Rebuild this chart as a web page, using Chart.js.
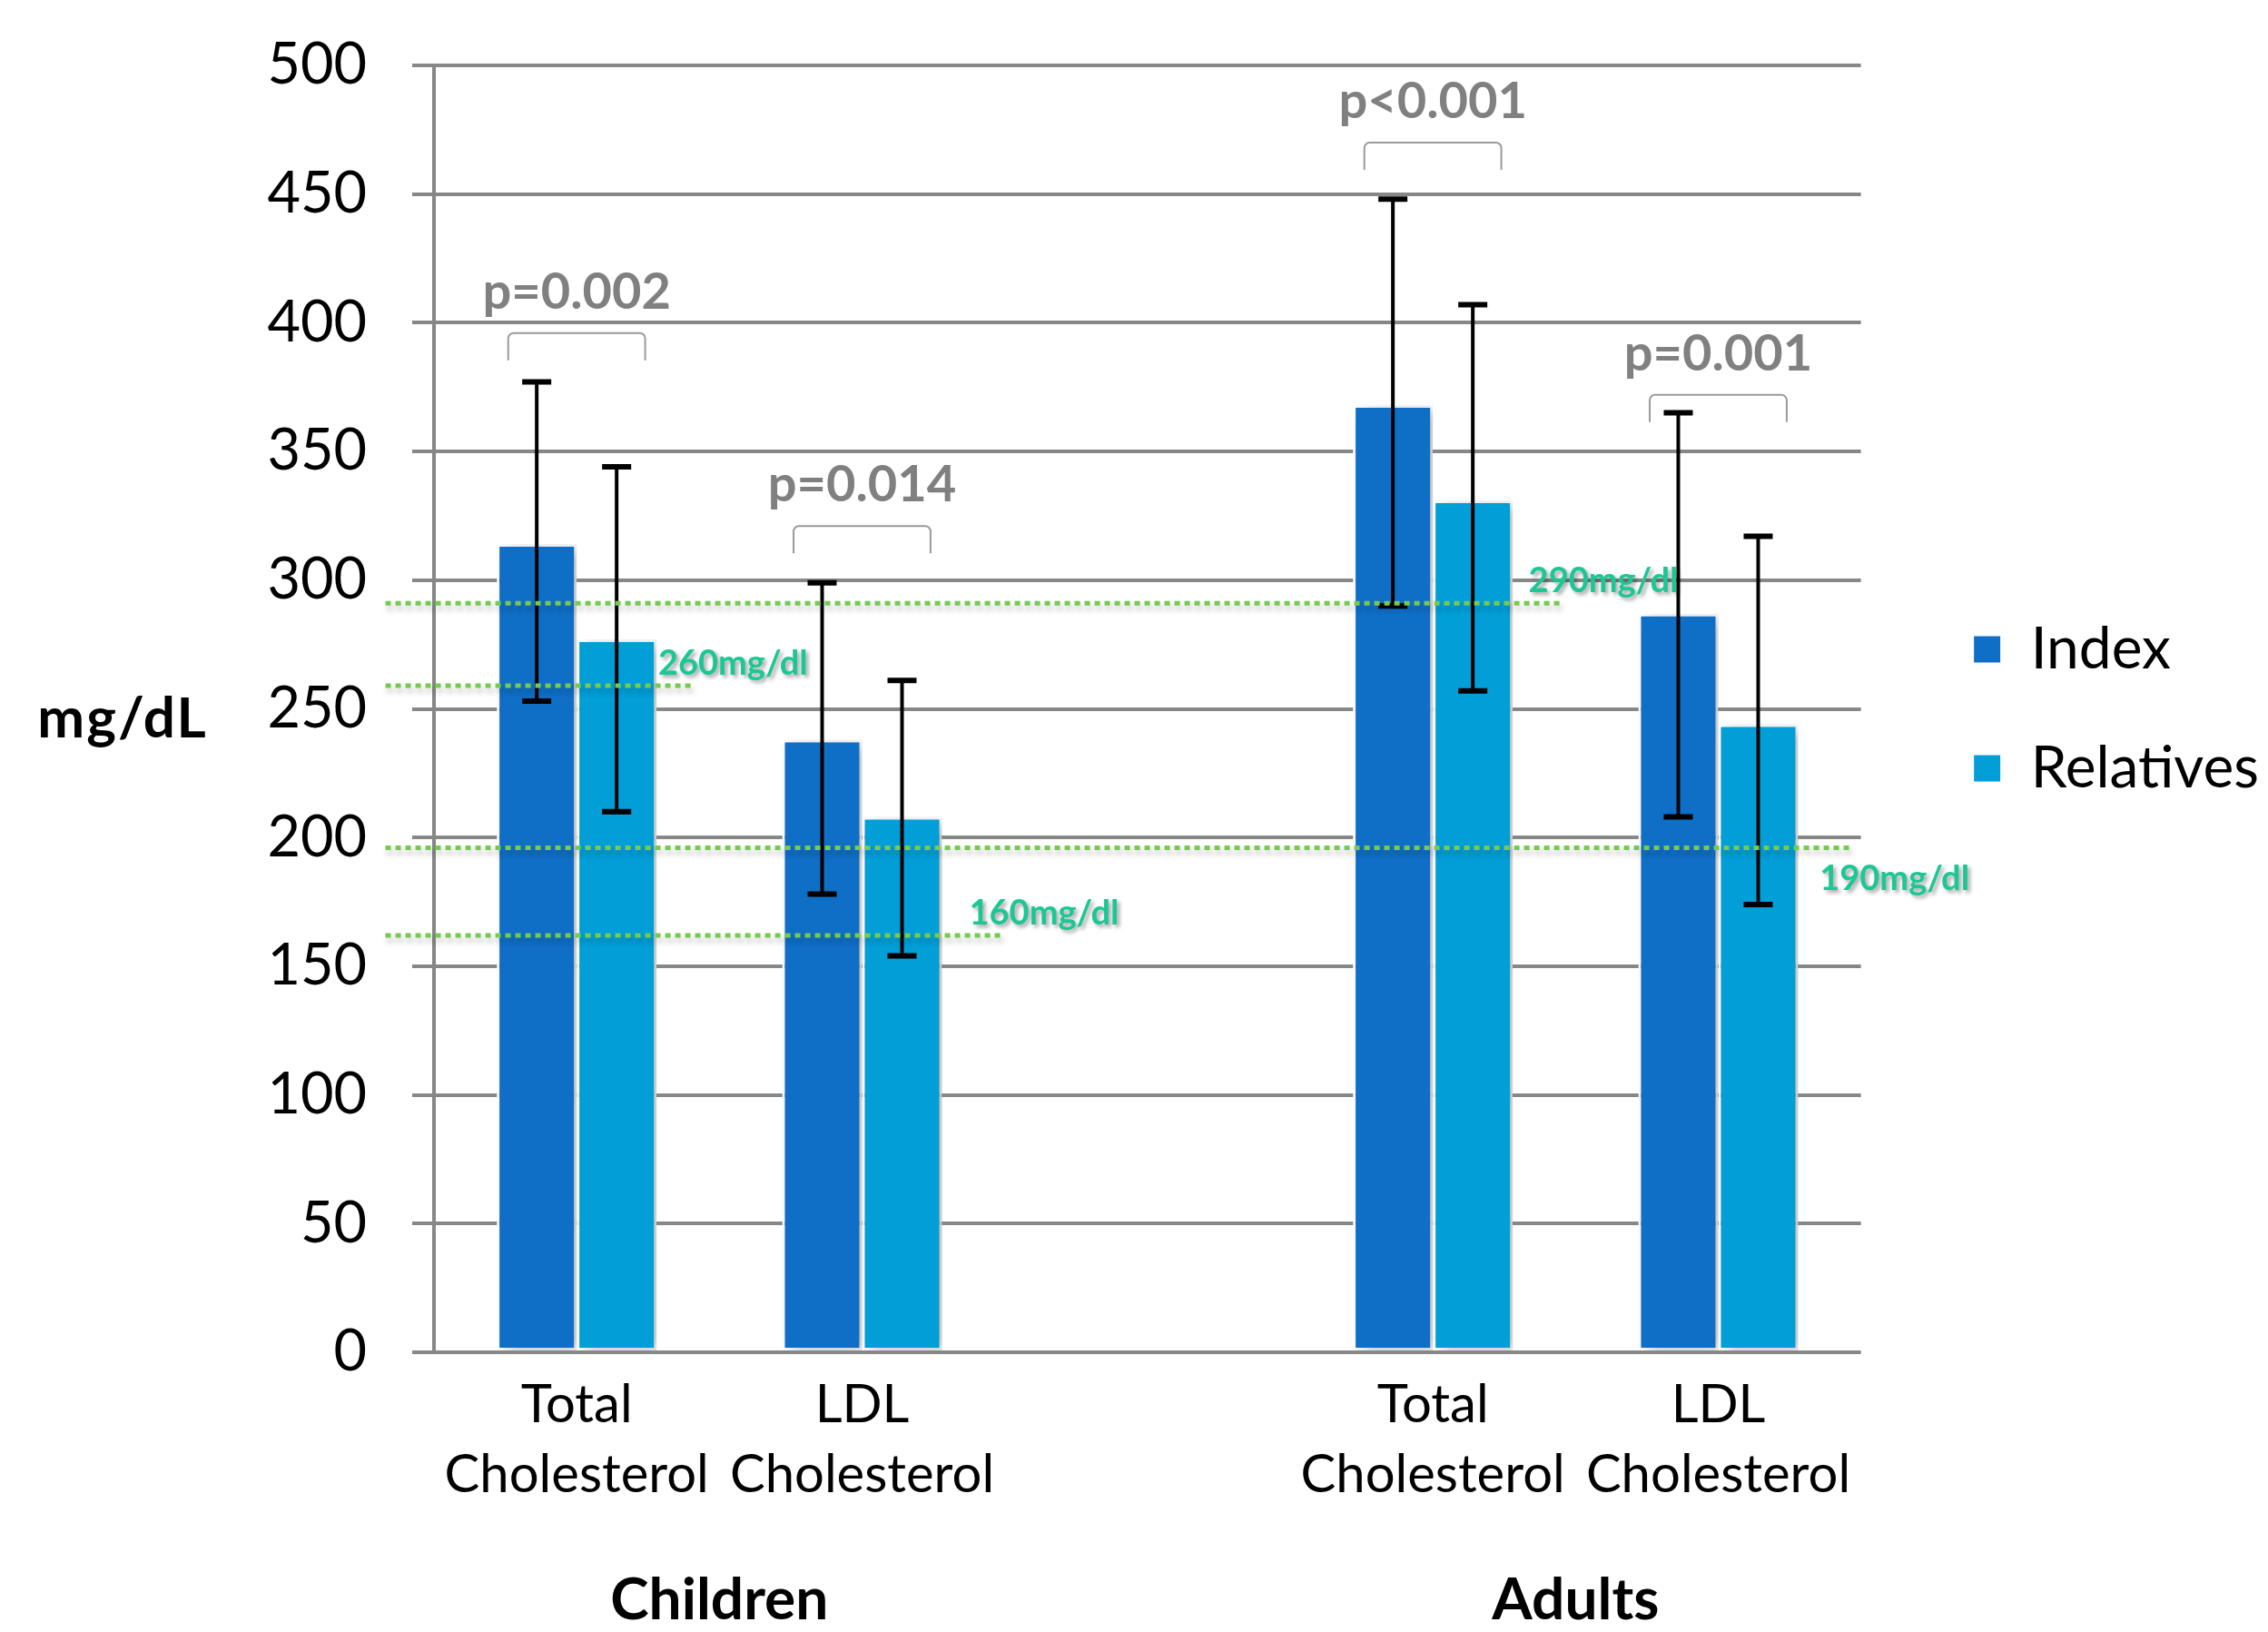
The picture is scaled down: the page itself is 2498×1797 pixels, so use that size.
<!DOCTYPE html>
<html lang="en">
<head>
  <meta charset="UTF-8">
  <title>Cholesterol in index patients and relatives</title>
  <script src="https://cdn.jsdelivr.net/npm/chart.js"></script>
  <style>
    html, body { margin: 0; padding: 0; background: #fff; overflow: hidden; }
    canvas { display: block; }
  </style>
</head>
<body>
  <canvas id="cholChart" width="2498" height="1797"></canvas>

  <script>
    // Categories (middle slot is the gap between the two groups)
    const categories = [['Total', 'Cholesterol'], ['LDL', 'Cholesterol'], '', ['Total', 'Cholesterol'], ['LDL', 'Cholesterol']];
    const groupNames = ['Children', 'Adults'];
    const groupMembers = [[0, 1], [3, 4]];

    // Means (mg/dL)
    const indexMeans = [314, 238, null, 368, 287];
    const relativeMeans = [277, 208, null, 331, 244];

    // Error bar ranges
    const indexLow = [253, 178, null, 290, 208];
    const indexHigh = [377, 299, null, 448, 365];
    const relativeLow = [210, 154, null, 257, 174];
    const relativeHigh = [344, 261, null, 407, 317];

    // p-values with the level of their bracket
    const pValues = ['p=0.002', 'p=0.014', null, 'p<0.001', 'p=0.001'];
    const pBracketAt = [396, 321, null, 470, 372];

    // Cut-off reference lines (value, label, extent in category units)
    const refValues = [291, 259, 196, 162];
    const refLabels = ['290mg/dl', '260mg/dl', '190mg/dl', '160mg/dl'];
    const refFrom = [-0.67, -0.67, -0.67, -0.67];
    const refTo = [3.45, 0.40, 4.47, 1.49];

    const yTicks = [0, 50, 100, 150, 200, 250, 300, 350, 400, 450, 500];

    const errorRanges = [[indexLow, indexHigh], [relativeLow, relativeHigh]];

    Chart.defaults.font.family = 'Lato';
    Chart.defaults.color = '#000';

    // soft shadow behind the bars
    const barShadow = {
      id: 'barShadow',
      beforeDatasetsDraw(chart) {
        const ctx = chart.ctx;
        ctx.save();
        ctx.shadowColor = 'rgba(0, 0, 0, 0.25)';
        ctx.shadowBlur = 14;
        ctx.shadowOffsetX = 8;
        ctx.shadowOffsetY = 3;
      },
      afterDatasetsDraw(chart) {
        chart.ctx.restore();
      }
    };

    const errorBars = {
      id: 'errorBars',
      afterDatasetsDraw(chart) {
        const ctx = chart.ctx;
        const y = chart.scales.y;
        chart.data.datasets.forEach((ds, di) => {
          const [low, high] = errorRanges[di];
          chart.getDatasetMeta(di).data.forEach((bar, i) => {
            if (ds.data[i] == null) return;
            const top = y.getPixelForValue(high[i]);
            const bot = y.getPixelForValue(low[i]);
            ctx.save();
            ctx.strokeStyle = '#000';
            ctx.lineWidth = 4;
            ctx.beginPath();
            ctx.moveTo(bar.x, top);
            ctx.lineTo(bar.x, bot);
            ctx.stroke();
            ctx.lineWidth = 6;
            ctx.beginPath();
            ctx.moveTo(bar.x - 16, top); ctx.lineTo(bar.x + 16, top);
            ctx.moveTo(bar.x - 16, bot); ctx.lineTo(bar.x + 16, bot);
            ctx.stroke();
            ctx.restore();
          });
        });
      }
    };

    const refLines = {
      id: 'refLines',
      afterDatasetsDraw(chart, args, opts) {
        const { ctx, scales: { x, y } } = chart;
        refValues.forEach((v, k) => {
          const py = y.getPixelForValue(v);
          const x0 = x.getPixelForValue(refFrom[k]);
          const x1 = x.getPixelForValue(refTo[k]);
          ctx.save();
          ctx.shadowColor = 'rgba(0, 0, 0, 0.25)';
          ctx.shadowBlur = 6;
          ctx.shadowOffsetX = 2;
          ctx.shadowOffsetY = 5;
          ctx.strokeStyle = '#76CA50';
          ctx.lineWidth = 5;
          ctx.setLineDash([6, 5]);
          ctx.beginPath();
          ctx.moveTo(x0, py);
          ctx.lineTo(x1, py);
          ctx.stroke();
          ctx.setLineDash([]);
          ctx.font = 'bold 38px Lato';
          ctx.fillStyle = '#1DC795';
          ctx.textAlign = 'left';
          ctx.textBaseline = 'alphabetic';
          ctx.shadowColor = 'rgba(0, 0, 0, 0.35)';
          ctx.shadowBlur = 4;
          ctx.shadowOffsetX = 3;
          ctx.shadowOffsetY = 3;
          const below = opts.labelBelow[k];
          ctx.fillText(refLabels[k], x1 - 36, below ? py + 46 : py - 12);
          ctx.restore();
        });
      }
    };

    const pBrackets = {
      id: 'pBrackets',
      afterDraw(chart) {
        const { ctx, scales: { x, y } } = chart;
        const half = (x.getPixelForValue(1) - x.getPixelForValue(0)) * 0.24;
        pValues.forEach((txt, i) => {
          if (!txt) return;
          const cx = x.getPixelForValue(i);
          const top = y.getPixelForValue(pBracketAt[i]);
          ctx.save();
          ctx.strokeStyle = '#9a9a9a';
          ctx.lineWidth = 2;
          ctx.beginPath();
          ctx.moveTo(cx - half, top + 30);
          ctx.arcTo(cx - half, top, cx + half, top, 6);
          ctx.arcTo(cx + half, top, cx + half, top + 30, 6);
          ctx.lineTo(cx + half, top + 30);
          ctx.stroke();
          ctx.font = 'bold 56px Lato';
          ctx.fillStyle = '#808080';
          ctx.textAlign = 'center';
          ctx.textBaseline = 'alphabetic';
          ctx.fillText(txt, cx, top - 27);
          ctx.restore();
        });
      }
    };

    // horizontal y title and the group names under the x axis
    const extraTitles = {
      id: 'extraTitles',
      afterDraw(chart) {
        const { ctx, chartArea, scales: { x } } = chart;
        ctx.save();
        ctx.fillStyle = '#000';
        ctx.textAlign = 'center';
        ctx.textBaseline = 'alphabetic';
        ctx.font = 'bold 62px Lato';
        ctx.letterSpacing = '2px';
        ctx.fillText('mg/dL', 135, (chartArea.top + chartArea.bottom) / 2 + 31);
        ctx.letterSpacing = '0px';
        ctx.font = 'bold 64px Lato';
        groupNames.forEach((name, g) => {
          const [a, b] = groupMembers[g];
          const cx = (x.getPixelForValue(a) + x.getPixelForValue(b)) / 2;
          ctx.fillText(name, cx, chartArea.bottom + 294);
        });
        ctx.restore();
      }
    };

    const ctx = document.getElementById('cholChart').getContext('2d');
    new Chart(ctx, {
      type: 'bar',
      data: {
        labels: categories,
        datasets: [
          {
            label: 'Index',
            data: indexMeans,
            backgroundColor: '#0F6EC6',
            borderColor: '#ffffff',
            borderWidth: 3,
            borderSkipped: false
          },
          {
            label: 'Relatives',
            data: relativeMeans,
            backgroundColor: '#019ED8',
            borderColor: '#ffffff',
            borderWidth: 3,
            borderSkipped: false
          }
        ]
      },
      options: {
        responsive: false,
        animation: false,
        layout: { padding: { top: 72, left: 0, right: 0, bottom: 0 } },
        datasets: { bar: { categoryPercentage: 0.56, barPercentage: 1.0 } },
        scales: {
          x: {
            grid: { display: false, drawTicks: false },
            border: { display: false },
            ticks: {
              font: { size: 58, lineHeight: 1.32 },
              color: '#000',
              padding: 20,
              maxRotation: 0,
              autoSkip: false
            },
            afterFit(scale) { scale.height = 308; }
          },
          y: {
            min: 0,
            max: 500,
            afterBuildTicks(scale) { scale.ticks = yTicks.map(v => ({ value: v })); },
            grid: { color: '#878787', lineWidth: 4, tickLength: 24, tickColor: '#878787' },
            border: { display: true, color: '#878787', width: 4 },
            ticks: { font: { size: 63 }, color: '#000', padding: 50 },
            afterFit(scale) {
              scale.width = 478;
              scale.paddingTop = 0;
              scale.paddingBottom = 0;
            }
          },
          spacer: {
            type: 'linear',
            position: 'right',
            display: true,
            grid: { display: false, drawTicks: false },
            border: { display: false },
            ticks: { display: false },
            afterFit(scale) { scale.width = 56; }
          }
        },
        plugins: {
          legend: {
            position: 'right',
            fullSize: false,
            maxWidth: 402,
            labels: {
              font: { size: 64 },
              color: '#000',
              boxWidth: 32,
              boxHeight: 32,
              padding: 67
            }
          },
          tooltip: { enabled: false },
          refLines: { labelBelow: [false, false, true, false] }
        }
      },
      plugins: [barShadow, errorBars, refLines, pBrackets, extraTitles]
    });
  </script>
</body>
</html>
